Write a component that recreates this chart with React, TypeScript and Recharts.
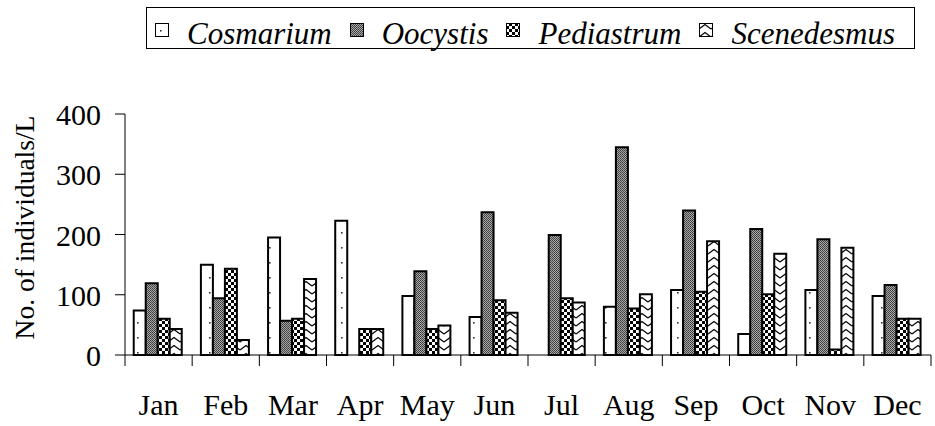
import React from "react";
import { BarChart, Bar, XAxis, YAxis, Legend } from "recharts";

// ─── Data ─────────────────────────────────────────────────────────────────────

const MONTHS = ["Jan", "Feb", "Mar", "Apr", "May", "Jun", "Jul", "Aug", "Sep", "Oct", "Nov", "Dec"];
const COSMARIUM = [74, 150, 195, 223, 98, 63, 0, 80, 108, 35, 108, 98];
const OOCYSTIS = [119, 94, 57, 0, 139, 237, 199, 345, 240, 209, 192, 116];
const PEDIASTRUM = [60, 143, 60, 43, 43, 91, 94, 77, 105, 101, 9, 60];
const SCENEDESMUS = [43, 25, 126, 43, 49, 70, 87, 101, 189, 168, 178, 60];
const Y_TICKS = [0, 100, 200, 300, 400];

const SERIES = [
  { key: "cosmarium", name: "Cosmarium", pattern: "pat-dots" },
  { key: "oocystis", name: "Oocystis", pattern: "pat-gray" },
  { key: "pediastrum", name: "Pediastrum", pattern: "pat-check" },
  { key: "scenedesmus", name: "Scenedesmus", pattern: "pat-wave" },
];

const data = MONTHS.map((month, i) => ({
  month,
  cosmarium: COSMARIUM[i],
  oocystis: OOCYSTIS[i],
  pediastrum: PEDIASTRUM[i],
  scenedesmus: SCENEDESMUS[i],
}));

const FONT = "Liberation Serif, serif";

// ─── Pieces ───────────────────────────────────────────────────────────────────

function Patterns() {
  return (
    <defs>
      <pattern id="pat-dots" width="12" height="15" patternUnits="userSpaceOnUse">
        <rect width="12" height="15" fill="#fff" />
        <rect x="5" y="7" width="1.6" height="1.6" fill="#333" />
      </pattern>
      <pattern id="pat-gray" width="2" height="2" patternUnits="userSpaceOnUse">
        <rect width="2" height="2" fill="#a8a8a8" />
        <rect x="0" y="0" width="1" height="1" fill="#3a3a3a" />
        <rect x="1" y="1" width="1" height="1" fill="#4a4a4a" />
      </pattern>
      <pattern id="pat-check" width="6" height="6" patternUnits="userSpaceOnUse">
        <rect width="6" height="6" fill="#000" />
        <rect x="0" y="0" width="3" height="3" fill="#fff" />
        <rect x="3" y="3" width="3" height="3" fill="#fff" />
      </pattern>
      <pattern id="pat-wave" width="12" height="8" patternUnits="userSpaceOnUse">
        <rect width="12" height="8" fill="#fff" />
        <path d="M0 6 L6 1.5 L12 6" fill="none" stroke="#000" strokeWidth="1.2" />
      </pattern>
    </defs>
  );
}

function MonthTick({ x, y, payload, index }: any) {
  const half = payload?.offset ?? 0;
  return (
    <g>
      <line x1={x - half} y1={y} x2={x - half} y2={y + 11} stroke="#000" />
      {index === MONTHS.length - 1 && (
        <line x1={x + half} y1={y} x2={x + half} y2={y + 11} stroke="#000" />
      )}
      <text x={x} y={y + 60} textAnchor="middle" fontSize={30} fontFamily={FONT} fill="#000">
        {payload.value}
      </text>
    </g>
  );
}

function YTick({ x, y, payload }: any) {
  return (
    <text x={x} y={y} dy={11} textAnchor="end" fontSize={30} fontFamily={FONT} fill="#000">
      {payload.value}
    </text>
  );
}

function YLabel({ viewBox }: any) {
  const cx = 26;
  const cy = viewBox.y + viewBox.height / 2 - 7;
  return (
    <text
      x={cx}
      y={cy}
      transform={`rotate(-90 ${cx} ${cy})`}
      dy={8}
      textAnchor="middle"
      fontSize={27.5}
      fontFamily={FONT}
      fill="#000"
    >
      No. of individuals/L
    </text>
  );
}

function BoxLegend() {
  return (
    <div
      style={{
        display: "flex",
        alignItems: "flex-start",
        boxSizing: "border-box",
        width: 769,
        height: 42,
        border: "1px solid #000",
        padding: "12px 0 0 8px",
        background: "#fff",
        fontFamily: FONT,
        fontStyle: "italic",
        fontSize: 31,
        lineHeight: "28px",
        whiteSpace: "nowrap",
      }}
    >
      {SERIES.map((s, i) => (
        <div key={s.key} style={{ display: "flex", alignItems: "flex-start", marginRight: i < SERIES.length - 1 ? 18 : 0 }}>
          <svg width={14} height={14} style={{ marginTop: 3, marginRight: 18 }}>
            <rect x={0.5} y={0.5} width={13} height={13} fill={`url(#${s.pattern})`} stroke="#000" />
          </svg>
          <span>{s.name}</span>
        </div>
      ))}
    </div>
  );
}

// ─── Chart ────────────────────────────────────────────────────────────────────

export default function App() {
  return (
    <div style={{ position: "absolute", left: 0, top: 0, background: "#fff" }}>
      <BarChart
        width={935}
        height={426}
        data={data}
        margin={{ top: 114, right: 4, left: 0, bottom: 0 }}
        barCategoryGap="13%"
        barGap={0}
      >
        <Patterns />
        <XAxis
          dataKey="month"
          interval={0}
          axisLine={{ stroke: "#000" }}
          tickLine={false}
          tickSize={0}
          tickMargin={0}
          tick={<MonthTick />}
          height={71}
        />
        <YAxis
          domain={[0, 400]}
          ticks={Y_TICKS}
          width={125}
          axisLine={{ stroke: "#000" }}
          tickLine={{ stroke: "#000" }}
          tickSize={10}
          tickMargin={14}
          tick={<YTick />}
          label={<YLabel />}
        />
        <Legend
          layout="horizontal"
          verticalAlign="middle"
          align="center"
          content={() => <BoxLegend />}
          wrapperStyle={{ top: 7, left: 146, width: 769 }}
        />
        {SERIES.map((s) => (
          <Bar
            key={s.key}
            dataKey={s.key}
            name={s.name}
            fill={`url(#${s.pattern})`}
            stroke="#000"
            strokeWidth={2}
            isAnimationActive={false}
          />
        ))}
      </BarChart>
    </div>
  );
}
